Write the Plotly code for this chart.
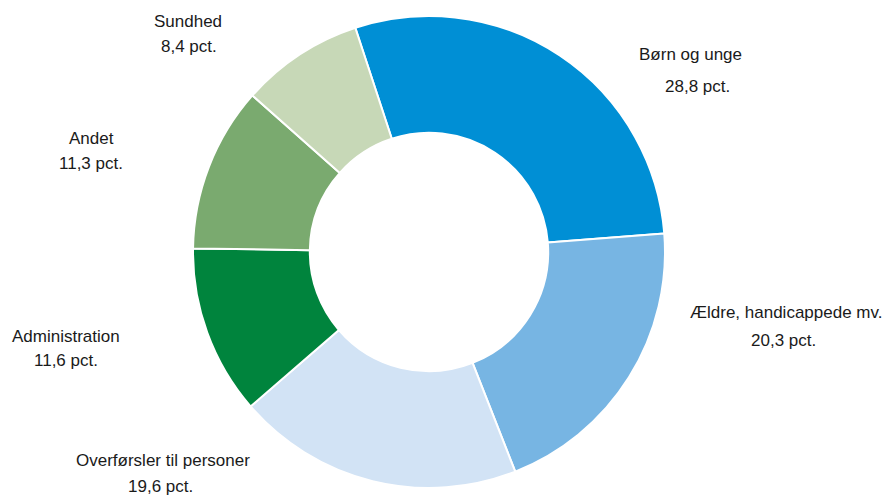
import plotly.graph_objects as go

categories = ["Børn og unge", "Ældre, handicappede mv.", "Overførsler til personer",
              "Administration", "Andet", "Sundhed"]
values = [28.8, 20.3, 19.6, 11.6, 11.3, 8.4]
value_labels = ["28,8 pct.", "20,3 pct.", "19,6 pct.", "11,6 pct.", "11,3 pct.", "8,4 pct."]
colors = ["#008FD5", "#77B5E3", "#D2E3F5", "#00843D", "#7AAA6F", "#C7D8B7"]

# label line centres (target pixels in the picture)
name_xy = [(690, 55), (786, 312), (163, 460), (66, 336), (91, 139), (188, 22)]
value_xy = [(697, 86), (783, 340), (160, 486), (66, 360), (91, 163), (189, 46)]

W, H = 890, 495
OFF = 8  # page body margin offset


def px(x):
    return (x - OFF) / W


def py(y):
    return 1 - (y - OFF) / H


fig = go.Figure(go.Pie(
    labels=categories,
    values=values,
    hole=0.505,
    sort=False,
    direction="clockwise",
    rotation=-18.2,
    marker=dict(colors=colors, line=dict(color="white", width=2)),
    textinfo="none",
    hoverinfo="label+value",
    domain=dict(x=[px(193), px(665)], y=[py(488), py(16)]),
    showlegend=False,
))

font = dict(family="Liberation Sans, Arial, sans-serif", size=17, color="#1a1a1a")
for cat, lab, (nx, ny), (vx, vy) in zip(categories, value_labels, name_xy, value_xy):
    fig.add_annotation(x=px(nx), y=py(ny), xref="paper", yref="paper", text=cat,
                       showarrow=False, xanchor="center", yanchor="middle", font=font)
    fig.add_annotation(x=px(vx), y=py(vy), xref="paper", yref="paper", text=lab,
                       showarrow=False, xanchor="center", yanchor="middle", font=font)

fig.update_layout(
    width=W, height=H,
    margin=dict(l=0, r=0, t=0, b=0),
    paper_bgcolor="white", plot_bgcolor="white",
)

fig.write_html("out.html")
